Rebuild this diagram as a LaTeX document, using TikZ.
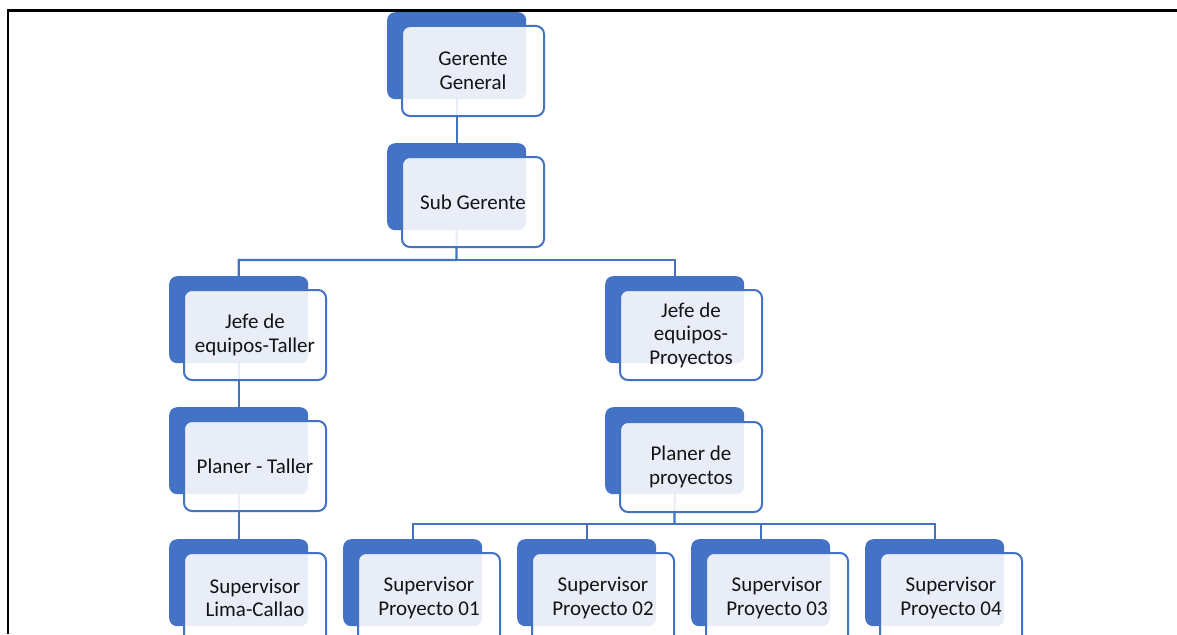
\documentclass[tikz,border=0pt]{standalone}
\usepackage{fontspec}
\setmainfont{Carlito}
\definecolor{accent}{HTML}{4472C4}
\definecolor{txt}{HTML}{141414}
\tikzset{
  backbox/.style={anchor=north west, fill=accent, draw=none, rounded corners=8pt,
    minimum width=139pt, minimum height=87pt, inner sep=0pt},
  frontbox/.style={anchor=north west, fill=white, fill opacity=0.88, text opacity=1,
    draw=accent, line width=2pt, rounded corners=8pt,
    minimum width=142pt, minimum height=90pt, inner sep=2pt,
    align=center, text=txt, font=\fontsize{21}{23.5}\selectfont},
  link/.style={draw=accent, line width=2.2pt},
  frame/.style={draw=black, line width=2.5pt}
}
\begin{document}
\begin{tikzpicture}[x=1pt,y=-1pt]
\clip (0,0) rectangle (1177,634);
\fill[white] (0,0) rectangle (1177,634);
% page frame
\draw[frame] (8,634) -- (8,10.5) -- (1177,10.5);

% branch points
\coordinate (b1) at (456.5,260);
\coordinate (b2) at (674.5,524);

% back plates (connectors are drawn between them)
\node[backbox] (gg-b) at (387,12) {};
\node[backbox] (sg-b) at (387,143) {};
\node[backbox] (jt-b) at (169,276) {};
\node[backbox] (jp-b) at (605,276) {};
\node[backbox] (pt-b) at (169,407) {};
\node[backbox] (pp-b) at (605,407) {};
\node[backbox] (sl-b) at (169,539) {};
\node[backbox] (s1-b) at (343,539) {};
\node[backbox] (s2-b) at (517,539) {};
\node[backbox] (s3-b) at (691,539) {};
\node[backbox] (s4-b) at (865,539) {};

% connectors
\draw[link] (gg-b.south) -- (sg-b.north);
\draw[link] (sg-b.south) -- (b1) -| (jt-b.north);
\draw[link] (b1) -| (jp-b.north);
\draw[link] (jt-b.south) -- (pt-b.north);
\draw[link] (pt-b.south) -- (sl-b.north);
\draw[link] (pp-b.south) -- (b2);
\draw[link] (b2) -| (s1-b.north);
\draw[link] (b2) -| (s2-b.north);
\draw[link] (b2) -| (s3-b.north);
\draw[link] (b2) -| (s4-b.north);

% front cards
\node[frontbox] (gg) at (401,25) {Gerente\\General};
\node[frontbox] (sg) at (401,156) {Sub Gerente};
\node[frontbox] (jt) at (183,289) {Jefe de\\equipos-Taller};
\node[frontbox] (jp) at (619,289) {Jefe de\\equipos-\\Proyectos};
\node[frontbox] (pt) at (183,420) {Planer - Taller};
\node[frontbox] (pp) at (619,421) {Planer de\\proyectos};
\node[frontbox] (sl) at (183,552) {Supervisor\\Lima-Callao};
\node[frontbox] (s1) at (357,552) {Supervisor\\Proyecto 01};
\node[frontbox] (s2) at (531,552) {Supervisor\\Proyecto 02};
\node[frontbox] (s3) at (705,552) {Supervisor\\Proyecto 03};
\node[frontbox] (s4) at (879,552) {Supervisor\\Proyecto 04};
\end{tikzpicture}
\end{document}
